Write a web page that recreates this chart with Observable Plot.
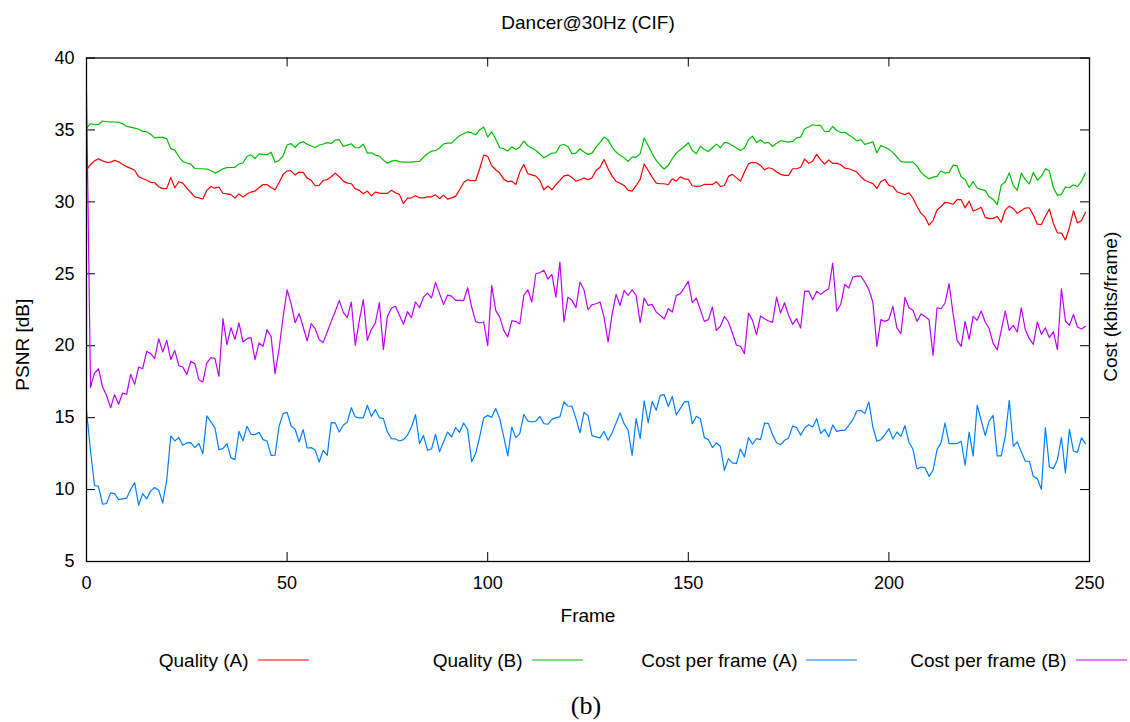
<!DOCTYPE html>
<html><head><meta charset="utf-8">
<script src="https://cdn.jsdelivr.net/npm/d3@7"></script>
<script src="https://cdn.jsdelivr.net/npm/@observablehq/plot@0.6"></script>
<style>
html,body{margin:0;padding:0;background:#fff;}
#chart{width:1130px;height:722px;}
</style></head><body><div id="chart"></div>
<script>
const frames = d3.range(0, 250);

const qualityA = [
32.2,32.6,32.85,33.0,32.85,32.75,32.76,32.88,32.78,32.6,32.45,32.33,32.2,31.75,31.62,31.5,31.36,31.33,31.05,30.92,30.92,31.7,30.98,31.4,31.3,30.95,30.65,30.35,30.28,30.2,30.8,31.07,30.95,31.03,30.6,30.55,30.5,30.26,30.55,30.33,30.55,30.68,30.75,30.98,31.2,31.2,31.0,30.84,31.35,31.9,32.15,32.15,31.86,32.07,32.05,31.65,31.5,31.12,31.14,31.5,31.55,31.75,32.0,31.75,
31.44,31.3,31.26,30.91,30.8,30.56,30.75,30.42,30.68,30.61,30.59,30.59,30.8,30.63,30.52,29.87,30.26,30.28,30.42,30.28,30.28,30.35,30.35,30.49,30.22,30.47,30.19,30.28,30.38,30.84,31.35,31.54,31.47,31.47,32.3,33.25,33.16,32.51,32.23,32.0,31.58,31.4,31.44,31.21,32.07,32.6,31.95,31.88,31.79,31.49,30.84,31.1,30.84,31.19,31.49,31.81,31.86,31.7,31.44,31.54,31.65,31.54,
31.67,32.18,32.41,32.95,32.3,31.79,31.42,31.3,31.14,30.8,30.75,31.14,31.56,32.62,32.18,31.72,31.3,31.26,31.26,31.19,31.6,31.44,31.74,31.6,31.56,31.12,31.07,31.1,31.21,31.21,31.21,31.4,31.07,31.14,31.77,31.91,31.67,31.44,32.07,32.65,32.74,32.72,32.53,32.23,32.37,32.3,32.07,31.91,31.84,31.84,32.3,32.3,32.41,32.97,32.67,32.83,33.3,32.92,32.62,32.92,32.67,32.69,32.58,
32.35,32.3,32.2,32.07,31.75,31.5,31.38,31.27,30.93,31.42,31.56,31.15,31.07,30.7,30.6,30.5,30.63,30.25,29.68,29.2,28.95,28.38,28.7,29.43,29.68,29.97,29.92,29.83,30.16,30.15,29.58,30.05,29.36,29.47,29.62,28.92,28.83,28.85,28.98,28.58,29.43,29.7,29.53,29.2,29.4,29.57,29.59,29.08,28.45,28.43,28.98,29.5,28.5,27.85,27.83,27.35,28.22,29.38,28.53,28.7,29.28
];

const qualityB = [
35.1,35.45,35.36,35.38,35.62,35.57,35.56,35.55,35.53,35.42,35.25,35.2,35.13,35.05,34.9,34.87,34.7,34.45,34.48,34.48,34.38,33.7,33.6,33.15,32.8,32.7,32.62,32.32,32.3,32.3,32.28,32.18,32.0,32.12,32.3,32.38,32.39,32.4,32.63,32.72,33.15,33.27,33.0,33.34,33.3,33.28,33.45,32.75,32.88,33.2,33.95,34.05,33.78,34.08,34.18,34.0,33.88,33.78,33.95,34.02,34.12,34.06,34.3,34.32,
33.85,33.94,34.04,33.76,33.76,34.01,33.39,33.41,33.25,33.18,32.9,32.69,32.83,32.88,32.8,32.76,32.76,32.76,32.79,32.81,33.1,33.34,33.53,33.57,33.74,34.02,34.08,34.08,34.36,34.59,34.73,34.86,34.8,34.66,35.0,35.2,34.5,34.87,34.35,33.76,33.69,33.53,33.83,33.64,33.81,34.22,33.9,33.74,33.57,33.34,33.06,33.23,33.39,33.41,33.92,33.99,33.85,33.34,33.39,33.69,33.46,33.3,
33.39,33.8,34.13,34.5,34.31,33.8,33.46,33.23,33.06,32.81,33.11,33.11,33.34,34.43,33.92,33.34,32.88,32.53,32.28,32.53,33.0,33.39,33.62,33.85,34.11,33.57,33.34,33.87,33.64,33.5,33.76,34.01,33.76,34.13,34.08,33.92,33.74,33.57,33.74,34.31,34.57,34.11,34.31,34.08,34.13,33.85,34.08,34.25,34.2,34.15,34.2,34.45,34.5,35.08,35.2,35.36,35.31,35.31,34.89,34.89,35.24,34.96,34.82,
34.84,34.65,34.47,34.24,34.32,34.0,34.08,34.18,33.4,33.92,33.8,33.65,33.42,33.12,32.8,32.76,32.76,32.76,32.48,32.05,31.8,31.6,31.72,31.77,32.15,32.0,32.05,32.55,32.5,31.75,31.56,31.0,31.4,30.96,30.85,30.8,30.35,30.17,29.8,31.15,31.4,32.0,31.14,30.8,32.0,31.55,31.25,32.05,31.5,31.77,32.3,32.14,30.98,30.45,30.52,31.03,30.98,31.19,31.05,31.44,32.0
];

const costA = [
15.5,12.7,10.28,10.23,8.98,9.03,9.77,9.72,9.3,9.35,9.4,10.0,10.48,8.91,9.72,9.35,9.91,10.14,9.95,9.07,10.65,13.73,13.38,13.61,13.08,13.24,13.26,12.92,13.2,12.5,15.12,14.7,14.31,12.78,12.85,13.2,12.22,12.08,14.05,13.38,14.4,13.84,13.82,13.98,13.47,13.38,12.38,12.4,14.4,15.28,15.37,14.42,14.19,13.31,14.17,12.89,12.92,12.73,11.92,12.73,12.38,14.65,14.63,14.0,
14.47,14.7,15.69,15.05,14.98,14.98,15.86,15.09,15.56,15.0,14.93,14.0,13.54,13.52,13.38,13.47,13.77,14.35,15.21,13.2,13.75,12.73,12.82,13.84,12.62,13.33,14.0,13.66,14.31,13.98,14.63,14.17,11.94,12.5,13.66,14.98,15.16,15.02,15.63,14.93,13.66,12.34,14.35,13.61,13.89,15.23,14.77,14.7,14.75,15.09,14.58,14.54,14.88,15.0,15.05,16.09,15.81,15.79,14.93,13.94,15.37,15.14,
13.75,13.66,13.59,14.05,13.43,13.94,14.63,15.33,14.58,14.12,12.38,14.93,13.54,16.16,14.65,16.13,15.51,16.55,16.6,15.79,16.48,15.19,15.63,16.09,16.13,14.58,15.09,14.93,13.61,13.47,12.92,13.24,13.01,11.34,12.15,11.85,11.8,12.82,12.27,13.61,13.15,13.54,13.47,14.63,14.58,13.82,13.26,13.12,13.43,13.59,14.42,14.31,13.77,14.28,14.51,14.35,14.93,13.89,14.19,13.66,14.49,14.05,14.12,
14.12,14.47,14.86,15.46,15.51,15.28,16.09,14.35,13.36,13.47,13.82,14.24,13.52,14.0,13.7,14.44,13.29,12.8,11.43,11.57,11.53,10.92,11.34,12.78,13.26,14.63,13.2,13.2,13.2,13.36,11.69,14.0,12.34,15.86,14.82,13.77,14.77,15.16,12.34,12.34,13.66,16.2,13.01,13.31,12.62,11.97,11.97,10.92,10.76,10.02,14.31,11.57,11.46,12.08,13.61,11.16,14.19,12.68,12.59,13.59,13.2
];

const costB = [
37.5,17.1,18.1,18.4,17.13,16.55,15.69,16.6,15.93,16.71,16.62,18.01,17.32,18.52,18.4,19.61,19.45,19.1,20.49,19.56,20.37,19.03,19.68,18.61,18.52,17.99,18.91,18.75,17.64,17.48,18.8,19.17,19.12,17.87,21.88,20.07,21.25,20.44,21.58,20.26,20.49,20.56,19.03,20.19,19.96,21.11,20.65,18.06,19.79,21.99,23.89,22.92,21.6,22.23,21.3,20.33,21.53,21.18,20.42,20.23,20.95,21.69,22.39,23.15,
22.32,21.95,23.04,20.03,21.76,23.2,20.37,21.14,21.58,22.99,19.72,22.04,22.6,22.74,22.11,21.49,22.37,21.95,23.04,22.64,23.38,23.66,23.32,24.4,23.62,22.87,23.52,23.45,23.15,23.15,23.13,24.03,22.69,21.67,21.58,21.65,20.0,24.19,22.46,21.99,21.07,20.61,21.72,21.69,21.51,23.5,23.89,23.04,25.0,25.07,25.24,24.63,24.96,23.38,25.82,21.65,23.38,23.15,22.64,24.43,23.89,22.5,
22.85,22.92,23.04,21.99,20.26,22.18,23.57,22.8,23.85,23.5,23.89,23.5,21.6,23.31,22.8,22.87,22.34,22.11,21.86,22.57,22.34,23.5,23.62,24.03,24.47,22.99,23.31,22.5,21.69,21.81,22.69,21.07,21.35,22.04,21.65,20.88,20.03,19.96,19.45,22.27,21.76,20.77,22.06,21.88,21.72,21.62,23.38,22.27,22.99,22.11,21.49,21.88,21.23,23.78,23.8,23.2,23.78,23.57,23.78,23.96,25.75,22.4,22.88,
24.26,24.01,24.77,24.84,24.84,24.43,23.89,23.04,19.96,21.81,21.69,21.81,22.74,21.23,20.84,23.36,22.64,22.46,21.69,22.2,22.04,21.81,19.33,22.64,22.57,22.97,24.31,22.23,20.37,19.96,21.69,20.44,22.04,21.76,22.41,21.65,21.18,20.14,19.72,21.07,22.41,21.07,21.42,20.95,22.64,21.11,20.49,20.1,21.65,20.79,21.25,20.56,20.98,19.72,23.96,21.72,21.42,22.18,21.3,21.16,21.35
];

const xTicks = [0, 50, 100, 150, 200, 250];
const yTicks = [5, 10, 15, 20, 25, 30, 35, 40];
const seriesNames = ["Quality (A)", "Quality (B)", "Cost per frame (A)", "Cost per frame (B)"];
const seriesColors = ["#ff0000", "#00c000", "#0080ff", "#c000ff"];
const seriesValues = [qualityA, qualityB, costA, costB];

// layout
const W = 1130, H = 722, mL = 86, mR = 41, mT = 57.5, mB = 161;
const fw = W - mL - mR, fh = H - mT - mB;
const legendTextEnd = [248, 522, 797, 1066];
const legendLineStart = [258, 532, 806, 1076];
const legendY = 660;
const font = "'Liberation Sans', Arial, Helvetica, sans-serif";
const labelSize = 19;

const rows = (vals, name) => vals.map((v, i) => ({frame: frames[i], value: v, series: name}));

const lineMarks = seriesValues.map((vals, k) =>
  Plot.line(rows(vals, seriesNames[k]), {
    x: "frame", y: "value", stroke: seriesColors[k], strokeWidth: 1.2, clip: true
  })
);

const plot = Plot.plot({
  width: W, height: H,
  marginLeft: mL, marginRight: mR, marginTop: mT, marginBottom: mB,
  style: {fontFamily: font, fontSize: "18px", background: "#fff", color: "#000", overflow: "visible"},
  x: {domain: [0, 250], label: null},
  y: {domain: [5, 40], label: null},
  marks: [
    Plot.axisX({ticks: xTicks, tickSize: 0, tickPadding: 15, fontSize: 18, label: null}),
    Plot.axisY({ticks: yTicks, tickSize: 0, tickPadding: 12, fontSize: 18, label: null}),
    Plot.tickY(yTicks, {y: d => d, insetRight: fw - 9, stroke: "#000"}),
    Plot.tickY(yTicks, {y: d => d, insetLeft: fw - 9, stroke: "#000"}),
    Plot.tickX(xTicks, {x: d => d, insetTop: fh - 9, stroke: "#000"}),
    Plot.tickX(xTicks, {x: d => d, insetBottom: fh - 9, stroke: "#000"}),
    ...lineMarks,
    Plot.frame({stroke: "#000", strokeWidth: 1.3}),
    Plot.text(["Dancer@30Hz (CIF)"], {frameAnchor: "top", lineAnchor: "middle", dy: -35.5, fontSize: labelSize, fill: "#000"}),
    Plot.text(["Frame"], {frameAnchor: "bottom", lineAnchor: "middle", dy: 54, fontSize: labelSize, fill: "#000"}),
    Plot.text(["PSNR [dB]"], {frameAnchor: "left", textAnchor: "middle", lineAnchor: "middle", dx: -64, dy: 35, rotate: -90, fontSize: labelSize, fill: "#000"}),
    Plot.text(["Cost (kbits/frame)"], {frameAnchor: "right", textAnchor: "middle", lineAnchor: "middle", dx: 21, dy: -3, rotate: -90, fontSize: labelSize, fill: "#000"}),
    ...seriesNames.map((name, i) =>
      Plot.text([name], {frameAnchor: "bottom-left", lineAnchor: "middle", dx: legendTextEnd[i] - mL, dy: legendY - (mT + fh),
        textAnchor: "end", fontSize: labelSize, fill: "#000"})
    ),
    Plot.text(["(b)"], {frameAnchor: "bottom", lineAnchor: "middle", dy: 144, dx: -2, fontSize: 26,
      fontFamily: "'Liberation Serif', 'DejaVu Serif', serif", fill: "#000"})
  ]
});

const svg = d3.select(plot);
svg.append("g").selectAll("line").data(seriesNames).join("line")
  .attr("x1", (d, i) => legendLineStart[i])
  .attr("x2", (d, i) => legendLineStart[i] + 51)
  .attr("y1", legendY).attr("y2", legendY)
  .attr("stroke", (d, i) => seriesColors[i])
  .attr("stroke-width", 1.2);

document.getElementById("chart").appendChild(plot);
</script>
</body></html>
